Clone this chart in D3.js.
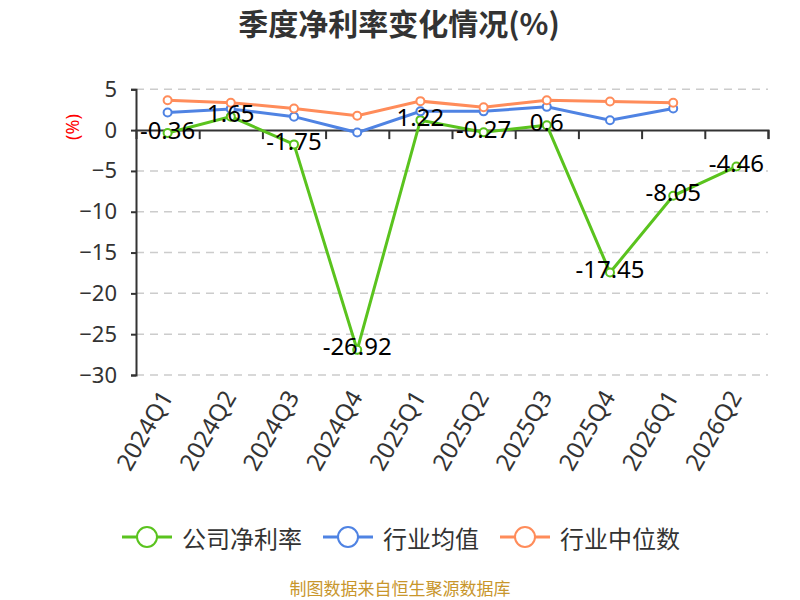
<!DOCTYPE html>
<html>
<head>
<meta charset="utf-8">
<script src="https://cdn.jsdelivr.net/npm/d3@7"></script>
<style>
  body { margin: 0; background: #fff; }
  svg { display: block; font-family: "Noto Sans", "Noto Sans CJK SC", sans-serif; }
</style>
</head>
<body>
<div id="chart"></div>
<script>
const quarters = ["2024Q1", "2024Q2", "2024Q3", "2024Q4", "2025Q1", "2025Q2", "2025Q3", "2025Q4", "2026Q1", "2026Q2"]
const companyRate = [-0.36, 1.65, -1.75, -26.92, 1.22, -0.27, 0.6, -17.45, -8.05, -4.46]
const industryMean = [2.15, 2.6, 1.65, -0.3, 2.3, 2.3, 2.85, 1.2, 2.65, null]
const industryMedian = [3.65, 3.35, 2.65, 1.75, 3.55, 2.8, 3.65, 3.5, 3.35, null]
const yTicks = [5, 0, -5, -10, -15, -20, -25, -30]

const seriesNames = ["公司净利率", "行业均值", "行业中位数"]
const seriesColors = ["#5ac31e", "#4f83e3", "#ff8c5a"]

const width = 800
const height = 600
const plotLeft = 136, plotRight = 768, plotTop = 89.3, plotBottom = 375

const svg = d3.select("#chart")
  .append("svg")
  .attr("width", width)
  .attr("height", height)

const x = d3.scaleBand().domain(quarters).range([plotLeft, plotRight])
const y = d3.scaleLinear().domain([-30, 5]).range([plotBottom, plotTop])
const cx = d => x(d) + x.bandwidth() / 2

// title
svg.append("text")
  .attr("x", 399)
  .attr("y", 22)
  .attr("text-anchor", "middle")
  .attr("dominant-baseline", "central")
  .attr("font-family", "'Noto Sans CJK SC', sans-serif")
  .attr("font-size", 30)
  .attr("font-weight", "bold")
  .attr("fill", "#333")
  .text("季度净利率变化情况(%)")

// y unit
svg.append("text")
  .attr("transform", "translate(72,127) rotate(-90)")
  .attr("text-anchor", "middle")
  .attr("dominant-baseline", "central")
  .attr("font-size", 18)
  .attr("fill", "#ff0000")
  .text("(%)")

// grid
svg.append("g")
  .selectAll("line")
  .data(yTicks.filter(v => v !== 0))
  .enter()
    .append("line")
    .attr("x1", plotLeft)
    .attr("x2", plotRight)
    .attr("y1", d => y(d))
    .attr("y2", d => y(d))
    .attr("stroke", "#ccc")
    .attr("stroke-width", 1.5)
    .attr("stroke-dasharray", "8,6")

// y axis
const yAxis = svg.append("g")
  .attr("transform", `translate(${plotLeft},0)`)
  .call(d3.axisLeft(y).tickValues(yTicks).tickSize(5).tickPadding(14))
yAxis.select(".domain").attr("stroke", "#333").attr("stroke-width", 2)
yAxis.selectAll(".tick line").attr("stroke", "#333").attr("stroke-width", 2)
yAxis.selectAll(".tick text")
  .attr("font-size", 22)
  .attr("fill", "#333")
  .attr("font-family", "'Noto Sans', sans-serif")

// x axis on zero, ticks at band edges
const edge = d3.scaleLinear().domain([0, quarters.length]).range([plotLeft, plotRight])
const xAxis = svg.append("g")
  .attr("transform", `translate(0,${y(0)})`)
  .call(d3.axisBottom(edge).tickValues(d3.range(1, quarters.length + 1)).tickSize(9).tickFormat(""))
xAxis.select(".domain").attr("stroke", "#333").attr("stroke-width", 2)
xAxis.selectAll(".tick line").attr("stroke", "#333").attr("stroke-width", 2)

// category labels at bottom
svg.append("g")
  .selectAll("text")
  .data(quarters)
  .enter()
    .append("text")
    .attr("transform", d => `translate(${cx(d) - 2},${plotBottom + 17}) rotate(-60)`)
    .attr("text-anchor", "end")
    .attr("dominant-baseline", "central")
    .attr("font-size", 24)
    .attr("fill", "#333")
    .text(d => d)

// series
const allSeries = [companyRate, industryMean, industryMedian]
const line = d3.line()
  .defined(d => d.v !== null)
  .x(d => cx(d.q))
  .y(d => y(d.v))

allSeries.forEach((values, i) => {
  const pts = quarters.map((q, j) => ({ q, v: values[j] }))
  const g = svg.append("g")
  g.append("path")
    .attr("d", line(pts))
    .attr("fill", "none")
    .attr("stroke", seriesColors[i])
    .attr("stroke-width", 3)
  g.selectAll("circle")
    .data(pts.filter(d => d.v !== null))
    .enter()
      .append("circle")
      .attr("cx", d => cx(d.q))
      .attr("cy", d => y(d.v))
      .attr("r", 4)
      .attr("fill", "#fff")
      .attr("stroke", seriesColors[i])
      .attr("stroke-width", 2)
})

// data labels of company series
svg.append("g")
  .selectAll("text")
  .data(quarters.map((q, j) => ({ q, v: companyRate[j] })))
  .enter()
    .append("text")
    .attr("x", d => cx(d.q))
    .attr("y", d => y(d.v) - 4)
    .attr("text-anchor", "middle")
    .attr("dominant-baseline", "central")
    .attr("font-size", 24)
    .attr("fill", "#000")
    .text(d => d.v)

// legend
const legendX = [122, 323, 500]
const legend = svg.append("g")
  .selectAll("g")
  .data(seriesNames)
  .enter()
    .append("g")
    .attr("transform", (d, i) => `translate(${legendX[i]},537)`)
legend.append("line")
  .attr("x1", 0).attr("x2", 50)
  .attr("stroke", (d, i) => seriesColors[i])
  .attr("stroke-width", 3)
legend.append("circle")
  .attr("cx", 25)
  .attr("r", 10)
  .attr("fill", "#fff")
  .attr("stroke", (d, i) => seriesColors[i])
  .attr("stroke-width", 2)
legend.append("text")
  .attr("x", 60)
  .attr("dominant-baseline", "central")
  .attr("font-family", "'Noto Sans CJK SC', sans-serif")
  .attr("font-size", 24)
  .attr("fill", "#333")
  .text(d => d)

// source
svg.append("text")
  .attr("x", 400)
  .attr("y", 587)
  .attr("text-anchor", "middle")
  .attr("dominant-baseline", "central")
  .attr("font-family", "'Noto Sans CJK SC', sans-serif")
  .attr("font-size", 17)
  .attr("fill", "#c8962c")
  .text("制图数据来自恒生聚源数据库")
</script>
</body>
</html>
